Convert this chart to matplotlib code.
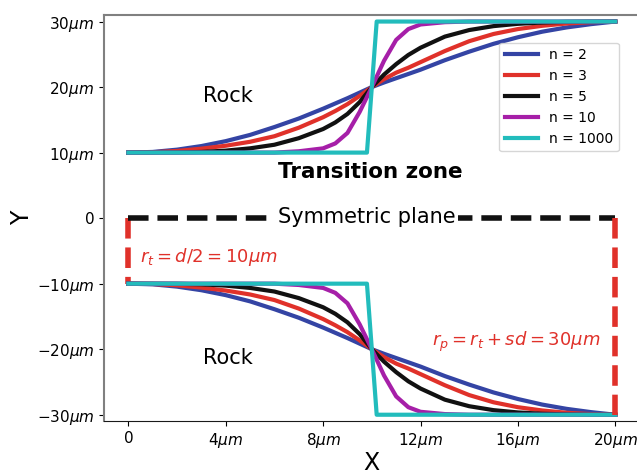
import matplotlib
matplotlib.use('Agg')
import matplotlib.pyplot as plt

# valores (curva superior, a inferior e o espelho)
x_grid = [0, 1, 2, 3, 4, 5, 6, 7, 8, 8.5, 9, 9.5, 10, 10.5, 11, 11.5, 12, 13, 14, 15, 16, 17, 18, 19, 20]
y_n2 = [10.0, 10.1, 10.45, 11.0, 11.75, 12.7, 13.9, 15.2, 16.7, 17.5, 18.3, 19.15, 20.0,
        20.7, 21.35, 22.0, 22.65, 24.1, 25.4, 26.6, 27.6, 28.45, 29.1, 29.6, 30.0]
y_n3 = [10.0, 10.05, 10.25, 10.6, 11.05, 11.65, 12.5, 13.8, 15.4, 16.35, 17.4, 18.65, 20.0,
        21.2, 22.2, 22.95, 23.8, 25.5, 27.0, 28.1, 28.85, 29.35, 29.7, 29.9, 30.0]
y_n5 = [10.0, 10.0, 10.02, 10.1, 10.3, 10.65, 11.2, 12.2, 13.6, 14.6, 15.9, 17.7, 20.0,
        21.9, 23.5, 24.9, 26.0, 27.7, 28.7, 29.3, 29.65, 29.85, 29.95, 30.0, 30.0]
y_n10 = [10.0, 10.0, 10.0, 10.0, 10.0, 10.0, 10.0, 10.2, 10.65, 11.4, 13.0, 16.2, 20.0,
         24.0, 27.2, 28.85, 29.55, 29.9, 30.0, 30.0, 30.0, 30.0, 30.0, 30.0, 30.0]
x_n1000 = [0, 9.8, 10.2, 20]
y_n1000 = [10, 10, 30, 30]

curvas = [(x_grid, y_n2, 'n = 2', '#3444a4'),
          (x_grid, y_n3, 'n = 3', '#e0312a'),
          (x_grid, y_n5, 'n = 5', '#111111'),
          (x_grid, y_n10, 'n = 10', '#a61fa8'),
          (x_n1000, y_n1000, 'n = 1000', '#22bcbc')]

x_ticks = [0, 4, 8, 12, 16, 20]
x_labels = ['0', r'4$\mu m$', r'8$\mu m$', r'12$\mu m$', r'16$\mu m$', r'20$\mu m$']
y_ticks = [-30, -20, -10, 0, 10, 20, 30]
y_labels = [r'−30$\mu m$', r'−20$\mu m$', r'−10$\mu m$', '0', r'10$\mu m$', r'20$\mu m$', r'30$\mu m$']

fig = plt.figure(figsize=(6.37, 4.74), dpi=100)
ax = fig.add_axes([0.1633, 0.1112, 0.8408, 0.8572])

# linhas tracejadas
ax.plot([0, 0], [0, -10], '--', color='#e0312a', lw=4, zorder=1)
ax.plot([20, 20], [0, -30], '--', color='#e0312a', lw=4, zorder=3)
ax.plot([0, 20], [0, 0], '--', color='#111111', lw=4, zorder=2)

for xs, ys, nome, cor in curvas:
    ax.plot(xs, ys, color=cor, lw=3, label=nome, zorder=2)
    ax.plot(xs, [-v for v in ys], color=cor, lw=3, zorder=2)

ax.text(4.1, 18.65, 'Rock', fontsize=15, ha='center', va='center')
ax.text(4.1, -21.3, 'Rock', fontsize=15, ha='center', va='center')
ax.text(9.93, 7.0, 'Transition zone', fontsize=15.5, fontweight='bold', ha='center', va='center')
ax.text(9.8, 0.1, 'Symmetric plane', fontsize=15, ha='center', va='center',
        bbox=dict(fc='white', ec='none', pad=2), zorder=4)
ax.text(0.48, -5.9, r'$r_t = d/2 = 10\mu m$', fontsize=13, color='#e0312a', ha='left', va='center')
ax.text(15.94, -18.9, r'$r_p = r_t + sd = 30\mu m$', fontsize=13, color='#e0312a', ha='center', va='center')

ax.set_xlim(-1, 21)
ax.set_ylim(-31, 31)
ax.set_xticks(x_ticks)
ax.set_xticklabels(x_labels, fontsize=11)
ax.set_yticks(y_ticks)
ax.set_yticklabels(y_labels, fontsize=11)
ax.set_xlabel('X', fontsize=17, labelpad=1)
ax.set_ylabel('Y', fontsize=17, labelpad=2)

ax.spines['left'].set_color('0.5')
ax.spines['top'].set_color('0.5')
ax.spines['left'].set_linewidth(1.5)
ax.spines['top'].set_linewidth(1.5)
ax.spines['bottom'].set_color('0.1')

ax.legend(loc='upper right', bbox_to_anchor=(0.962, 0.932), borderaxespad=0,
          fontsize=10, handlelength=2.4)

plt.savefig('out.png', dpi=100)
